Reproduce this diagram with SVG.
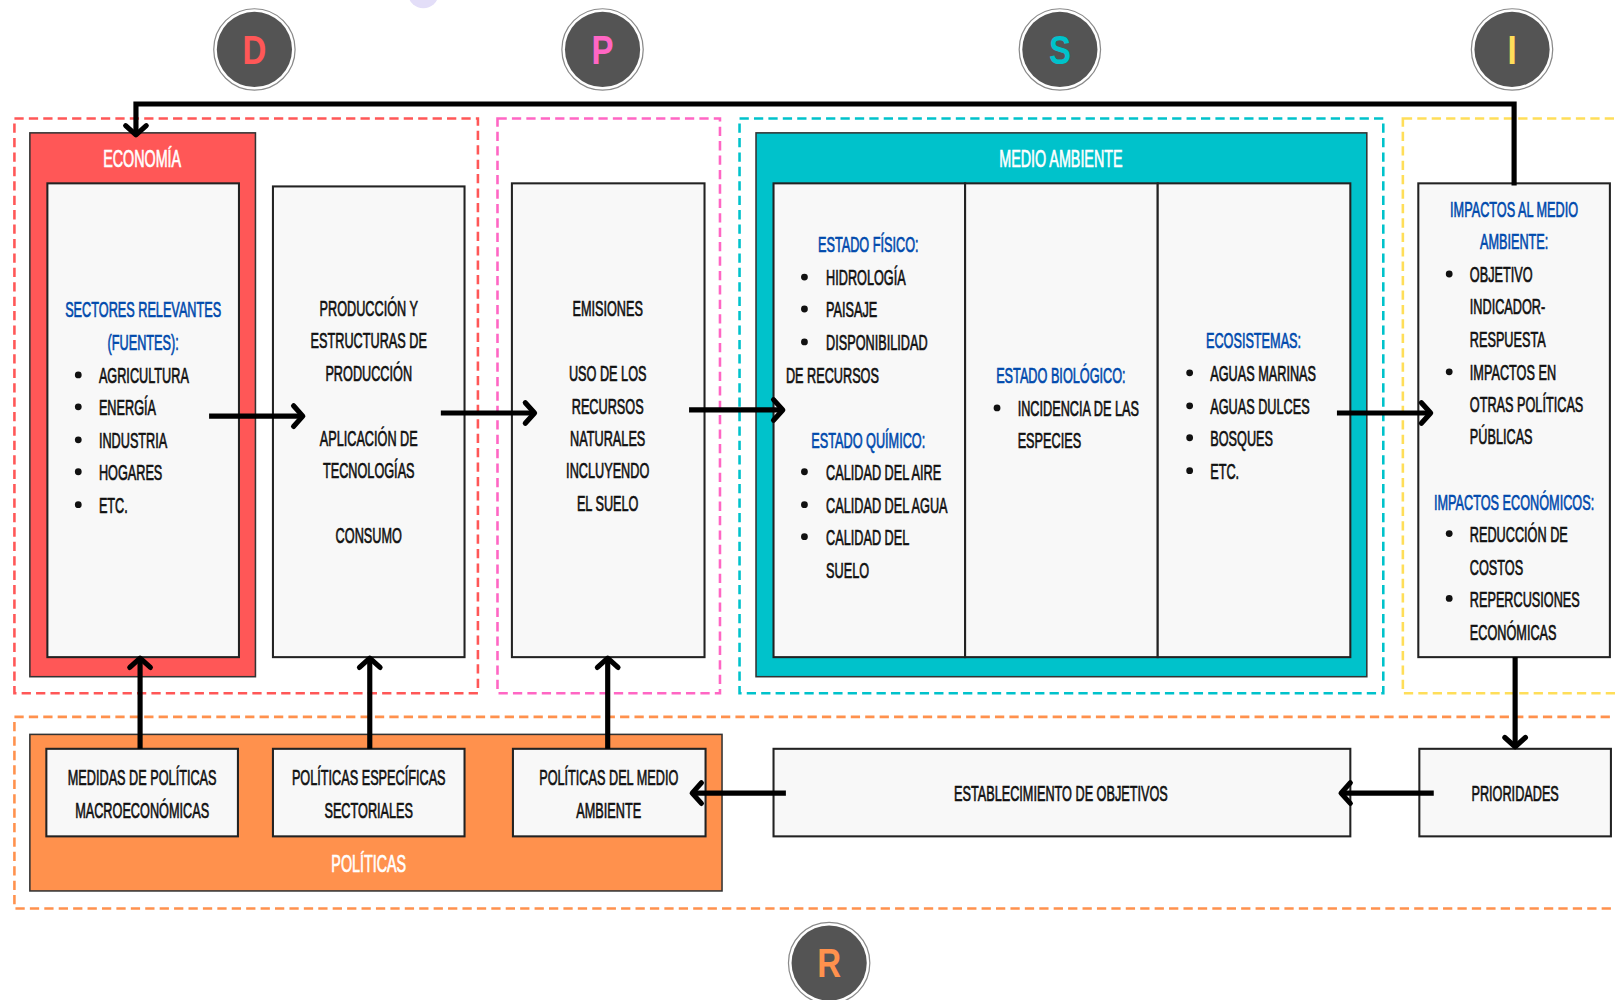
<svg xmlns="http://www.w3.org/2000/svg" width="1615" height="1000" viewBox="0 0 1615 1000">
<defs>
<style>
.t{font-family:"Liberation Sans",Arial,sans-serif;font-size:22px;fill:#111;stroke:#111;stroke-width:.7}
.h{fill:#004aad;stroke:#004aad}
.w{fill:#fff;stroke:#fff;font-size:24px}
.c{text-anchor:middle}
.box{fill:#f8f8f8;stroke:#222;stroke-width:2}
.outer{stroke:#333;stroke-width:1.5}
.dash{fill:none;stroke-width:2.5;stroke-dasharray:9 5}
.conn{fill:none;stroke:#000;stroke-width:5;marker-end:url(#ah)}
.bul{fill:#111}
.bl{font-family:"Liberation Sans",Arial,sans-serif;font-size:40px;font-weight:bold;text-anchor:middle}
</style>
<marker id="ah" markerUnits="userSpaceOnUse" markerWidth="30" markerHeight="30" refX="14" refY="13" orient="auto" overflow="visible">
<path d="M5,3 L14,13 L5,23" fill="none" stroke="#000" stroke-width="5" stroke-linecap="round" stroke-linejoin="round"/>
</marker>
<g id="badge">
<circle r="39.5" fill="#fff" stroke="#8a8a8a" stroke-width="1.2"/>
<circle r="36.5" fill="#545454"/>
</g>
</defs>
<rect width="1615" height="1000" fill="#fff"/>
<g transform="scale(1.03)">
<ellipse cx="411" cy="-4" rx="14" ry="12" fill="#e3def8"/>

<g id="frames">
<rect class="dash" x="14" y="115" width="450" height="558" stroke="#ff5757"/>
<rect class="dash" x="483" y="115" width="216" height="558" stroke="#ff66c4"/>
<rect class="dash" x="718" y="115" width="625" height="558" stroke="#00c2cb"/>
<rect class="dash" x="1362" y="115" width="230" height="558" stroke="#ffde59"/>
<rect class="dash" x="14" y="696" width="1578" height="186" stroke="#ff914d"/>
</g>

<g id="badge-d"><use href="#badge" x="247" y="48"/><g transform="translate(247 0) scale(.8 1)"><text class="bl" y="62" fill="#ff5757">D</text></g></g>
<g id="badge-p"><use href="#badge" x="585" y="48"/><g transform="translate(585 0) scale(.8 1)"><text class="bl" y="62" fill="#ff66c4">P</text></g></g>
<g id="badge-s"><use href="#badge" x="1029" y="48"/><g transform="translate(1029 0) scale(.8 1)"><text class="bl" y="62" fill="#00c2cb">S</text></g></g>
<g id="badge-i"><use href="#badge" x="1468" y="48"/><g transform="translate(1468 0) scale(.8 1)"><text class="bl" y="62" fill="#ffde59">I</text></g></g>
<g id="badge-r"><use href="#badge" x="805" y="935"/><g transform="translate(805 0) scale(.8 1)"><text class="bl" y="949" fill="#ff914d">R</text></g></g>

<g id="economia">
<rect class="outer" x="29" y="129" width="219" height="528" fill="#ff5757"/>
<g transform="translate(138 0) scale(.58 1)"><text class="t w c" y="162">ECONOMÍA</text></g>
<rect class="box" x="46" y="178" width="186" height="460"/>
<g transform="translate(139 0) scale(.56 1)">
<text class="t h c" y="308">SECTORES RELEVANTES</text>
<text class="t h c" y="340">(FUENTES):</text>
</g>
<g class="bul"><circle cx="76" cy="364" r="3.3"/><circle cx="76" cy="395" r="3.3"/><circle cx="76" cy="427" r="3.3"/><circle cx="76" cy="458" r="3.3"/><circle cx="76" cy="490" r="3.3"/></g>
<g transform="translate(96 0) scale(.56 1)">
<text class="t" y="372">AGRICULTURA</text>
<text class="t" y="403">ENERGÍA</text>
<text class="t" y="435">INDUSTRIA</text>
<text class="t" y="466">HOGARES</text>
<text class="t" y="498">ETC.</text>
</g>
</g>

<g id="produccion">
<rect class="box" x="265" y="181" width="186" height="457"/>
<g transform="translate(358 0) scale(.56 1)">
<text class="t c" y="307">PRODUCCIÓN Y</text>
<text class="t c" y="338">ESTRUCTURAS DE</text>
<text class="t c" y="370">PRODUCCIÓN</text>
<text class="t c" y="433">APLICACIÓN DE</text>
<text class="t c" y="464">TECNOLOGÍAS</text>
<text class="t c" y="527">CONSUMO</text>
</g>
</g>

<g id="emisiones">
<rect class="box" x="497" y="178" width="187" height="460"/>
<g transform="translate(590 0) scale(.56 1)">
<text class="t c" y="307">EMISIONES</text>
<text class="t c" y="370">USO DE LOS</text>
<text class="t c" y="402">RECURSOS</text>
<text class="t c" y="433">NATURALES</text>
<text class="t c" y="464">INCLUYENDO</text>
<text class="t c" y="496">EL SUELO</text>
</g>
</g>

<g id="medio-ambiente">
<rect class="outer" x="734" y="129" width="593" height="528" fill="#00c2cb"/>
<g transform="translate(1030 0) scale(.58 1)"><text class="t w c" y="162">MEDIO AMBIENTE</text></g>
<rect class="box" x="751" y="178" width="186" height="460"/>
<rect class="box" x="937" y="178" width="187" height="460"/>
<rect class="box" x="1124" y="178" width="187" height="460"/>
<g transform="translate(843 0) scale(.56 1)">
<text class="t h c" y="245">ESTADO FÍSICO:</text>
<text class="t h c" y="435">ESTADO QUÍMICO:</text>
</g>
<g class="bul"><circle cx="781" cy="269" r="3.3"/><circle cx="781" cy="300" r="3.3"/><circle cx="781" cy="332" r="3.3"/><circle cx="781" cy="458" r="3.3"/><circle cx="781" cy="490" r="3.3"/><circle cx="781" cy="521" r="3.3"/></g>
<g transform="translate(802 0) scale(.56 1)">
<text class="t" y="277">HIDROLOGÍA</text>
<text class="t" y="308">PAISAJE</text>
<text class="t" y="340">DISPONIBILIDAD</text>
<text class="t" y="466">CALIDAD DEL AIRE</text>
<text class="t" y="498">CALIDAD DEL AGUA</text>
<text class="t" y="529">CALIDAD DEL</text>
<text class="t" y="561">SUELO</text>
</g>
<g transform="translate(763 0) scale(.56 1)"><text class="t" y="372">DE RECURSOS</text></g>
<g transform="translate(1030 0) scale(.56 1)"><text class="t h c" y="372">ESTADO BIOLÓGICO:</text></g>
<circle class="bul" cx="968" cy="396" r="3.3"/>
<g transform="translate(988 0) scale(.56 1)">
<text class="t" y="404">INCIDENCIA DE LAS</text>
<text class="t" y="435">ESPECIES</text>
</g>
<g transform="translate(1217 0) scale(.56 1)"><text class="t h c" y="338">ECOSISTEMAS:</text></g>
<g class="bul"><circle cx="1155" cy="362" r="3.3"/><circle cx="1155" cy="394" r="3.3"/><circle cx="1155" cy="425" r="3.3"/><circle cx="1155" cy="457" r="3.3"/></g>
<g transform="translate(1175 0) scale(.56 1)">
<text class="t" y="370">AGUAS MARINAS</text>
<text class="t" y="402">AGUAS DULCES</text>
<text class="t" y="433">BOSQUES</text>
<text class="t" y="465">ETC.</text>
</g>
</g>

<g id="impactos">
<rect class="box" x="1377" y="178" width="186" height="460"/>
<g transform="translate(1470 0) scale(.56 1)">
<text class="t h c" y="211">IMPACTOS AL MEDIO</text>
<text class="t h c" y="242">AMBIENTE:</text>
<text class="t h c" y="495">IMPACTOS ECONÓMICOS:</text>
</g>
<g class="bul"><circle cx="1407" cy="266" r="3.3"/><circle cx="1407" cy="361" r="3.3"/><circle cx="1407" cy="518" r="3.3"/><circle cx="1407" cy="581" r="3.3"/></g>
<g transform="translate(1427 0) scale(.56 1)">
<text class="t" y="274">OBJETIVO</text>
<text class="t" y="305">INDICADOR-</text>
<text class="t" y="337">RESPUESTA</text>
<text class="t" y="369">IMPACTOS EN</text>
<text class="t" y="400">OTRAS POLÍTICAS</text>
<text class="t" y="431">PÚBLICAS</text>
<text class="t" y="526">REDUCCIÓN DE</text>
<text class="t" y="558">COSTOS</text>
<text class="t" y="589">REPERCUSIONES</text>
<text class="t" y="621">ECONÓMICAS</text>
</g>
</g>

<g id="politicas">
<rect class="outer" x="29" y="713" width="672" height="152" fill="#ff914d"/>
<g transform="translate(358 0) scale(.58 1)"><text class="t w c" y="847">POLÍTICAS</text></g>
</g>
<g id="politicas-macro">
<rect class="box" x="45" y="727" width="186" height="85"/>
<g transform="translate(138 0) scale(.56 1)">
<text class="t c" y="762">MEDIDAS DE POLÍTICAS</text>
<text class="t c" y="794">MACROECONÓMICAS</text>
</g>
</g>
<g id="politicas-sectoriales">
<rect class="box" x="265" y="727" width="186" height="85"/>
<g transform="translate(358 0) scale(.56 1)">
<text class="t c" y="762">POLÍTICAS ESPECÍFICAS</text>
<text class="t c" y="794">SECTORIALES</text>
</g>
</g>
<g id="politicas-medio">
<rect class="box" x="498" y="727" width="187" height="85"/>
<g transform="translate(591 0) scale(.56 1)">
<text class="t c" y="762">POLÍTICAS DEL MEDIO</text>
<text class="t c" y="794">AMBIENTE</text>
</g>
</g>

<g id="establecimiento">
<rect class="box" x="751" y="727" width="560" height="85"/>
<g transform="translate(1030 0) scale(.56 1)"><text class="t c" y="778">ESTABLECIMIENTO DE OBJETIVOS</text></g>
</g>
<g id="prioridades">
<rect class="box" x="1378" y="727" width="186" height="85"/>
<g transform="translate(1471 0) scale(.56 1)"><text class="t c" y="778">PRIORIDADES</text></g>
</g>

<g id="connectors">
<path class="conn" d="M1470,180 V101 H132 V131"/>
<path class="conn" d="M203,404 H294"/>
<path class="conn" d="M428,401 H519"/>
<path class="conn" d="M669,398 H760"/>
<path class="conn" d="M1298,401 H1389"/>
<path class="conn" d="M1471,638 V725"/>
<path class="conn" d="M1392,770 H1302"/>
<path class="conn" d="M763,770 H672"/>
<path class="conn" d="M136,727 V639"/>
<path class="conn" d="M359,727 V639"/>
<path class="conn" d="M590,727 V639"/>
</g>
</g>
</svg>
